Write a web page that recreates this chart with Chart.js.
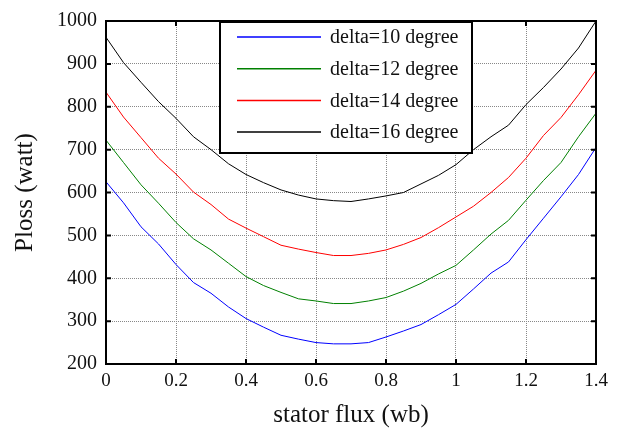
<!DOCTYPE html>
<html>
<head>
<meta charset="utf-8">
<script src="https://cdn.jsdelivr.net/npm/chart.js@4.4.0/dist/chart.umd.min.js"></script>
<style>
    html, body { margin: 0; padding: 0; background: #fff; }
    #wrap { width: 619px; height: 430px; }
</style>
</head>
<body>
<div id="wrap"><canvas id="lossChart" width="619" height="430"></canvas></div>
<script>
const flux = [0, 0.05, 0.1, 0.15, 0.2, 0.25, 0.3, 0.35, 0.4, 0.45, 0.5, 0.55, 0.6, 0.65, 0.7,
    0.75, 0.8, 0.85, 0.9, 0.95, 1.0, 1.05, 1.1, 1.15, 1.2, 1.25, 1.3, 1.35, 1.4];

const delta10 = [625, 576, 520, 480, 432, 390, 365, 333, 306, 286, 267, 258, 250, 247, 247,
    250, 263, 277, 292, 315, 339, 375, 412, 438, 490, 540, 590, 642, 705];
const delta12 = [722, 670, 618, 575, 530, 492, 466, 435, 404, 383, 367, 352, 347, 341, 341,
    347, 355, 370, 388, 410, 430, 466, 503, 535, 582, 628, 670, 730, 785];
const delta14 = [834, 776, 728, 680, 643, 601, 572, 538, 517, 497, 477, 468, 460, 453, 453,
    458, 466, 479, 495, 518, 543, 568, 600, 635, 680, 733, 775, 828, 885];
const delta16 = [962, 903, 857, 812, 773, 730, 700, 667, 642, 623, 606, 594, 585, 581, 579,
    585, 592, 600, 620, 640, 665, 700, 730, 757, 805, 845, 888, 937, 1000];

const seriesLabels = ['delta=10 degree', 'delta=12 degree', 'delta=14 degree', 'delta=16 degree'];
const seriesColors = ['#0000ff', '#008000', '#ff0000', '#000000'];
const xTicks = [0, 0.2, 0.4, 0.6, 0.8, 1, 1.2, 1.4];
const yTicks = [200, 300, 400, 500, 600, 700, 800, 900, 1000];

const serif = "'Liberation Serif', 'Times New Roman', serif";
Chart.defaults.font.family = serif;

function toPoints(values) {
    return values.map(function (v, i) { return { x: flux[i], y: v }; });
}

// box around the plot, with the small inward tick marks on all four sides
const framePlugin = {
    id: 'frame',
    afterDatasetsDraw(chart) {
        const c = chart.ctx;
        const a = chart.chartArea;
        const xs = chart.scales.x;
        const ys = chart.scales.y;
        c.save();
        c.strokeStyle = '#000';
        c.lineWidth = 2;
        c.strokeRect(a.left, a.top, a.right - a.left, a.bottom - a.top);
        c.beginPath();
        xTicks.forEach(function (t) {
            const px = xs.getPixelForValue(t);
            c.moveTo(px, a.bottom); c.lineTo(px, a.bottom - 5);
            c.moveTo(px, a.top); c.lineTo(px, a.top + 5);
        });
        yTicks.forEach(function (t) {
            const py = ys.getPixelForValue(t);
            c.moveTo(a.left, py); c.lineTo(a.left + 5, py);
            c.moveTo(a.right, py); c.lineTo(a.right - 5, py);
        });
        c.stroke();
        c.restore();
    }
};

// legend box sitting inside the plot, top middle
const legendBox = {
    id: 'legendBox',
    afterDraw(chart) {
        const c = chart.ctx;
        const a = chart.chartArea;
        const left = 220, top = a.top + 1, right = 472, bottom = 153;
        c.save();
        c.fillStyle = '#fff';
        c.fillRect(left, top, right - left, bottom - top);
        c.strokeStyle = '#000';
        c.lineWidth = 2;
        c.strokeRect(left, top, right - left, bottom - top);
        c.font = '20px ' + serif;
        c.textBaseline = 'middle';
        chart.data.datasets.forEach(function (ds, i) {
            const y = 37 + i * 31.7;
            c.strokeStyle = ds.borderColor;
            c.lineWidth = 1.5;
            c.beginPath();
            c.moveTo(237, y); c.lineTo(321, y);
            c.stroke();
            c.fillStyle = '#111';
            c.fillText(ds.label, 330, y + 1);
        });
        c.restore();
    }
};

const ctx = document.getElementById('lossChart');

new Chart(ctx, {
    type: 'line',
    data: {
        datasets: [delta10, delta12, delta14, delta16].map(function (vals, i) {
            return {
                label: seriesLabels[i],
                data: toPoints(vals),
                borderColor: seriesColors[i],
                backgroundColor: seriesColors[i],
                borderWidth: 1,
                pointRadius: 0,
                fill: false,
                tension: 0
            };
        })
    },
    options: {
        responsive: false,
        animation: false,
        layout: {
            padding: { left: 0, top: 16, right: 23, bottom: 0 }
        },
        scales: {
            x: {
                type: 'linear',
                min: 0,
                max: 1.4,
                afterFit: function (scale) { scale.height = 66; },
                ticks: {
                    stepSize: 0.2,
                    color: '#111',
                    padding: 6,
                    maxRotation: 0,
                    font: { family: serif, size: 19 },
                    callback: function (v) { return String(Math.round(v * 10) / 10); }
                },
                grid: { color: '#888', drawTicks: false, lineWidth: 1 },
                border: { display: false, dash: [1, 1] },
                title: {
                    display: true,
                    text: 'stator flux (wb)',
                    color: '#111',
                    font: { family: serif, size: 25 },
                    padding: { top: 0, bottom: 0 }
                }
            },
            y: {
                min: 200,
                max: 1000,
                afterFit: function (scale) { scale.width = 106; },
                ticks: {
                    stepSize: 100,
                    color: '#111',
                    padding: 9,
                    font: { family: serif, size: 20 },
                    callback: function (v) { return String(v); }
                },
                grid: { color: '#888', drawTicks: false, lineWidth: 1 },
                border: { display: false, dash: [1, 1] },
                title: {
                    display: true,
                    text: 'Ploss (watt)',
                    color: '#111',
                    font: { family: serif, size: 25 },
                    padding: { top: 10, bottom: 0 }
                }
            }
        },
        plugins: {
            legend: { display: false },
            tooltip: { enabled: false }
        }
    },
    plugins: [framePlugin, legendBox]
});
</script>
</body>
</html>
